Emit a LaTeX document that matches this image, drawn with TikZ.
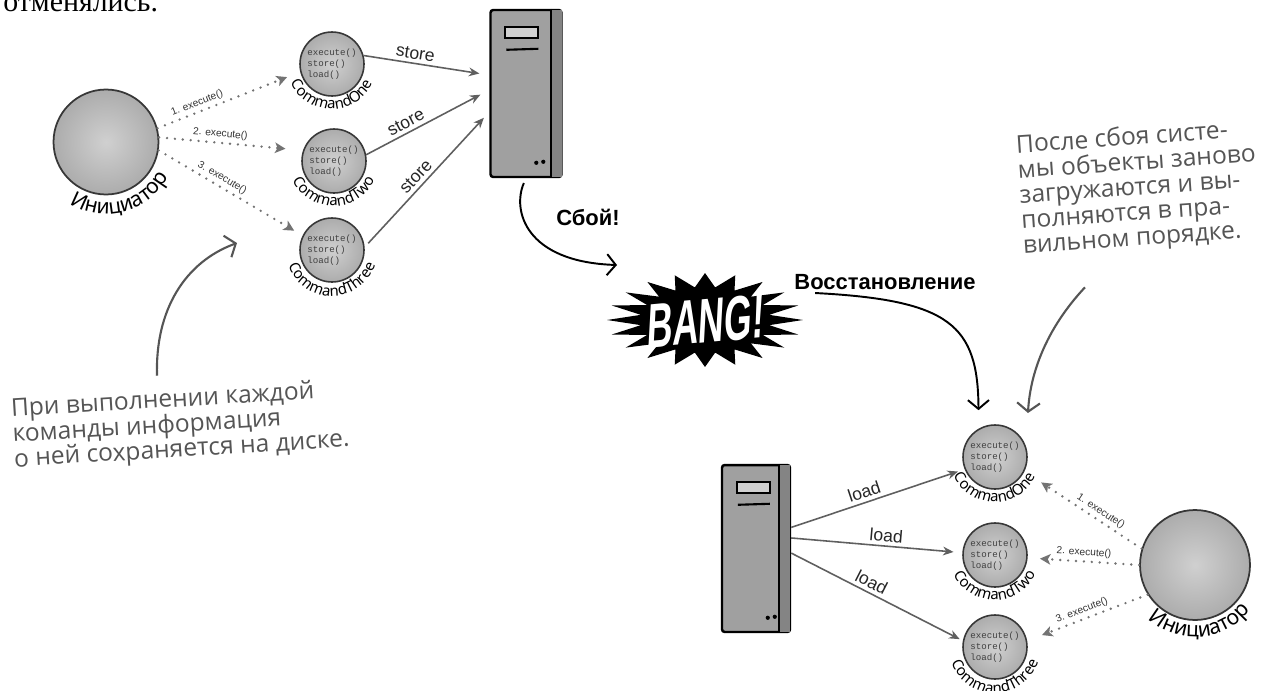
\documentclass[tikz,border=0pt]{standalone}
\usepackage{fontspec}
\usetikzlibrary{arrows.meta,decorations.text}

\newfontfamily\lblfont{Liberation Sans}
\newfontfamily\codefont{Liberation Mono}
\newfontfamily\handfont{Open Sans}
\newfontfamily\namefont{Noto Sans}
\newfontfamily\oldtext{Liberation Serif}

\definecolor{inkgray}{RGB}{95,95,95}
\definecolor{dotgray}{RGB}{115,115,115}
\definecolor{notegray}{RGB}{85,85,85}
\definecolor{ballout}{RGB}{55,55,55}
\definecolor{ballin}{RGB}{208,208,208}
\definecolor{ballrim}{RGB}{172,172,172}
\definecolor{boxgray}{RGB}{160,160,160}
\definecolor{boxside}{RGB}{132,132,132}

\tikzset{
  cmdball/.style={circle, draw=ballout, line width=0.9pt, shading=radial,
    inner color=ballin, outer color=ballrim, minimum size=1.28cm, inner sep=0pt,
    font=\codefont\fontsize{5.2}{6.4}\selectfont, text=black!75, align=left},
  callerball/.style={circle, draw=ballout, line width=1pt, shading=radial,
    inner color=ballin, outer color=ballrim, minimum size=2.1cm},
  serverbox/.style={rectangle, fill=boxgray, draw=black, line width=1.4pt,
    rounded corners=1.5pt, minimum width=1.42cm, minimum height=3.34cm},
  dotcall/.style={draw=dotgray, line width=1.5pt, line cap=round,
    dash pattern=on 0pt off 4.5pt, -{Stealth[length=6pt,width=6pt,inset=1.5pt]}},
  storeline/.style={draw=inkgray, line width=0.9pt, -{Stealth[length=6pt,width=5pt]}},
  bigcurve/.style={draw=black, line width=1.1pt, -{Straight Barb[length=5pt,width=12pt]}},
  pointer/.style={draw=notegray, line width=1.2pt, -{Straight Barb[length=5pt,width=13pt]}},
  calllbl/.style={font=\lblfont\fontsize{5.8}{5.8}\selectfont, text=black!80, inner sep=1.5pt},
  linklbl/.style={font=\lblfont\fontsize{10}{10}\selectfont, text=black!85, inner sep=2pt},
  boldlbl/.style={font=\lblfont\bfseries\fontsize{12.5}{12.5}\selectfont, inner sep=0pt},
  notetext/.style={font=\handfont\fontsize{14}{14.3}\selectfont, text=notegray,
    align=left, inner sep=0pt},
  bangtext/.style={font=\lblfont\bfseries\fontsize{36}{36}\selectfont, text=white,
    xscale=0.56, xslant=0.15, rotate=3, inner sep=0pt}
}

% slot, edge and lamps on a server box
\newcommand{\serverparts}[1]{%
  \fill[boxside] ([shift={(-12,1)}]#1.north east) rectangle ([shift={(-1,-1)}]#1.south east);
  \draw[line width=1pt] ([xshift=-6.8pt]#1.north east) -- ([xshift=-6.8pt]#1.south east);
  \draw[line width=1pt, fill=ballin] ([shift={(16,18)}]#1.north west) rectangle ([shift={(49,29)}]#1.north west);
  \draw[line width=1.2pt] ([shift={(17,41)}]#1.north west) -- ([shift={(49,40)}]#1.north west);
  \fill ([shift={(47,154)}]#1.north west) circle (1.2pt);
  \fill ([shift={(54,153)}]#1.north west) circle (1.2pt);
}
% name written round the lower rim of a ball
\newcommand{\arcname}[6]{%
  \path[decorate, decoration={text along path, text align=center,
      text={|\namefont\fontsize{#5}{#5}\selectfont|#6}}]
    ([shift={(#3:#2)}]#1.center) arc[start angle=#3, end angle=#4, radius=#2];
}

\begin{document}
\begin{tikzpicture}[x=0.02cm, y=-0.02cm]
\useasboundingbox (0,0) rectangle (1275,690);
\clip (0,0) rectangle (1275,690);

\node[anchor=base west, inner sep=0pt, font=\oldtext\fontsize{17}{17}\selectfont] (prevline) at (3,11.5) {отменялись.};

%% before the crash
\node[callerball] (ini1) at (106,142) {};
\node[cmdball] (c1) at (332,64) {execute()\\store()\\load()};
\node[cmdball] (c2) at (334,161) {execute()\\store()\\load()};
\node[cmdball] (c3) at (332,250) {execute()\\store()\\load()};
\arcname{ini1}{1.44cm}{215}{355}{12}{Инициатор}
\arcname{c1}{0.9cm}{195}{345}{8.5}{CommandOne}
\arcname{c2}{0.9cm}{195}{345}{8.5}{CommandTwo}
\arcname{c3}{0.92cm}{185}{355}{8.5}{CommandThree}

\node[serverbox] (srv1) at (526,93.5) {};
\serverparts{srv1}

\draw[dotcall, shorten >=8pt] (ini1.15) -- (c1.194) node[calllbl, pos=0.3, sloped, above] {1. execute()};
\draw[dotcall, shorten >=10pt] (ini1.5) -- (c2.161) node[calllbl, pos=0.42, sloped, above] {2. execute()};
\draw[dotcall, shorten >=5.5pt] (ini1.-9) -- (c3.154) node[calllbl, pos=0.41, sloped, above] {3. execute()};

\draw[storeline, shorten >=5.7pt] (c1.15) -- ([yshift=10.5pt]srv1.west) node[linklbl, pos=0.4, sloped, above] {store};
\draw[storeline, shorten >=5.7pt] (c2.11) -- ([yshift=2pt]srv1.west) node[linklbl, pos=0.36, sloped, above] {store};
\draw[storeline, shorten >=4.5pt, shorten <=3pt] (c3.5) -- ([yshift=-10.5pt]srv1.west) node[linklbl, pos=0.47, sloped, above] {store};

%% crash
\coordinate (crash) at (617,265);
\node[boldlbl] (crashlbl) at (588,217) {Сбой!};
\draw[bigcurve, shorten <=3pt] (srv1.south) .. controls (512,210) and (525,262) .. (crash);

\coordinate (bangc) at (705,320);
\fill[black, shift={(bangc)}] (0:1.96cm and 0.94cm)
  \foreach \a in {0,18,...,342} { -- (\a+9:1.3cm and 0.66cm) -- (\a+18:1.96cm and 0.94cm) } -- cycle;
\node[bangtext] (bang) at (706,321) {BANG!};

%% recovery
\node[boldlbl] (recover) at (885,282) {Восстановление};

\node[serverbox, minimum width=1.36cm] (srv2) at (756,548.5) {};
\serverparts{srv2}

\node[cmdball] (c4) at (995,457) {execute()\\store()\\load()};
\node[cmdball] (c5) at (995,555) {execute()\\store()\\load()};
\node[cmdball] (c6) at (995,647) {execute()\\store()\\load()};
\node[callerball, minimum size=2.2cm] (ini2) at (1195,565) {};
\arcname{c4}{0.9cm}{195}{345}{8.5}{CommandOne}
\arcname{c5}{0.9cm}{195}{345}{8.5}{CommandTwo}
\arcname{c6}{0.92cm}{185}{355}{8.5}{CommandThree}
\arcname{ini2}{1.44cm}{205}{345}{12}{Инициатор}

\draw[bigcurve, shorten >=10.5pt] ([shift={(21,3)}]recover.south west) .. controls (950,300) and (978,325) .. (c4.120);

\draw[storeline, shorten >=4pt] ([yshift=12pt]srv2.east) -- (c4.202) node[linklbl, pos=0.44, sloped, above] {load};
\draw[storeline, shorten >=5pt] ([yshift=6pt]srv2.east) -- (c5.176) node[linklbl, pos=0.55, sloped, above] {load};
\draw[storeline, shorten >=2pt] ([yshift=-2.6pt]srv2.east) -- (c6.169) node[linklbl, pos=0.44, sloped, above] {load};

\draw[dotcall, shorten >=11.4pt] (ini2.163) -- (c4.-26) node[calllbl, pos=0.39, sloped, above] {1. execute()};
\draw[dotcall, shorten >=7pt] (ini2.180) -- (c5.-5) node[calllbl, pos=0.5, sloped, above] {2. execute()};
\draw[dotcall, shorten >=9pt] (ini2.212) -- (c6.11) node[calllbl, pos=0.52, sloped, above] {3. execute()};

%% handwritten notes
\node[notetext, anchor=north west, rotate=3.5] (noteL) at (10,398)
  {При выполнении каждой\\команды информация\\о ней сохраняется на диске.};
\coordinate (hintL) at (237,243);
\draw[pointer] ([shift={(-21,-12)}]noteL.north) .. controls (155,310) and (185,262) .. (hintL);

\node[notetext, anchor=north west, rotate=4] (noteR) at (1015,134)
  {После сбоя систе-\\мы объекты заново\\загружаются и вы-\\полняются в пра-\\вильном порядке.};
\coordinate (hintR) at (1028,413);
\draw[pointer] ([shift={(-58,36)}]noteR.south) .. controls (1045,330) and (1030,375) .. (hintR);
\end{tikzpicture}
\end{document}
